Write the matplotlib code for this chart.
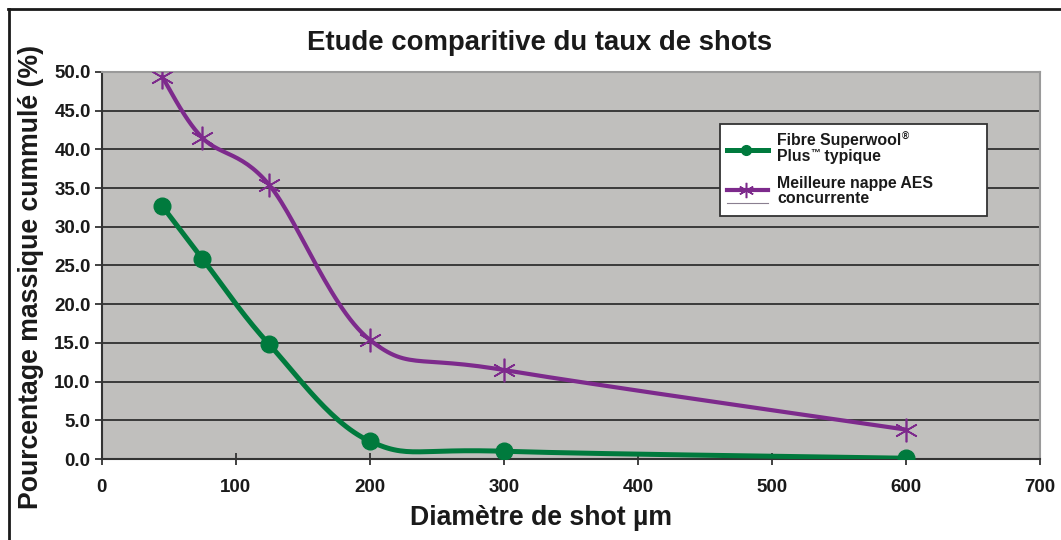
import numpy as np
import matplotlib
matplotlib.use('Agg')
import matplotlib.pyplot as plt
from matplotlib.lines import Line2D
from matplotlib.patches import Rectangle

plt.rcParams['font.family'] = ['Liberation Sans', 'DejaVu Sans']

# Data
diam = [45, 75, 125, 200, 300, 600]
superwool = [32.7, 25.9, 14.8, 2.3, 1.0, 0.1]
aes = [49.4, 41.5, 35.4, 15.4, 11.5, 3.8]

green = '#007a3d'
purple = '#7d2a8c'
W, H = 1061.0, 540.0


def smooth(xs, ys, sx, sy, n=30):
    # Excel-like smoothing: cubic Bezier with Catmull-Rom control points (in pixel scale)
    p = np.column_stack([np.array(xs) * sx, np.array(ys) * sy])
    pts = []
    for i in range(len(p) - 1):
        p0 = p[i - 1] if i > 0 else p[i]
        p1 = p[i]
        p2 = p[i + 1]
        p3 = p[i + 2] if i + 2 < len(p) else p[i + 1]
        c1 = p1 + (p2 - p0) / 6.0
        c2 = p2 - (p3 - p1) / 6.0
        t = np.linspace(0, 1, n)[:, None]
        seg = ((1 - t) ** 3) * p1 + 3 * ((1 - t) ** 2) * t * c1 + 3 * (1 - t) * t ** 2 * c2 + t ** 3 * p2
        pts.append(seg if i == 0 else seg[1:])
    pts = np.vstack(pts)
    return pts[:, 0] / sx, pts[:, 1] / sy


def fx(px):
    return px / W


def fy(py):
    return 1 - py / H


fig = plt.figure(figsize=(10.61, 5.4), dpi=100)
ax = fig.add_axes([0.0959, 0.15, 0.8842, 0.7167])
ax.set_facecolor('#c0bfbd')
ax.set_xlim(0, 700)
ax.set_ylim(0, 50)

# pixel scale factors
sx = 938.0 / 700
sy = 387.0 / 50

for yv in np.arange(5, 50, 5):
    ax.axhline(yv, color='#3a3a3a', lw=1.4, zorder=1)

gx, gy = smooth(diam, superwool, sx, sy)
ax.plot(gx, gy, color=green, lw=3.6, zorder=3, solid_capstyle='round')
ax.plot(diam, superwool, 'o', color=green, ms=12, zorder=4)

px, py = smooth(diam, aes, sx, sy)
ax.plot(px, py, color=purple, lw=3.0, zorder=3, solid_capstyle='round')
ax.plot(diam, aes, marker=(6, 2, 0), ls='none', color=purple, ms=17, mew=1.2, zorder=4)

ax.set_xticks(np.arange(0, 701, 100))
ax.set_yticks(np.arange(0, 50.1, 5))
ax.set_yticklabels(['%.1f' % v for v in np.arange(0, 50.1, 5)])
ax.tick_params(axis='x', direction='inout', length=9, width=1.3, color='#333333', pad=10,
               labelsize=13.5)
ax.tick_params(axis='y', direction='out', length=5, width=1.3, color='#333333', pad=3,
               labelsize=13.5)
for lab in ax.get_xticklabels() + ax.get_yticklabels():
    lab.set_fontweight('bold')
    lab.set_color('#1a1a1a')

for side in ['top', 'right']:
    ax.spines[side].set_color('#9a9a9a')
    ax.spines[side].set_linewidth(1.5)
ax.spines['left'].set_color('#333333')
ax.spines['bottom'].set_color('#333333')
ax.spines['left'].set_linewidth(1.5)
ax.spines['bottom'].set_linewidth(1.5)

fig.text(fx(540), fy(50), 'Etude comparitive du taux de shots', ha='center', va='baseline',
         fontsize=19.8, fontweight='bold', color='#1a1a1a')
fig.text(fx(541), fy(525), 'Diamètre de shot µm', ha='center', va='baseline',
         fontsize=19.2, fontweight='bold', color='#1a1a1a')
fig.text(fx(31), fy(277), 'Pourcentage massique cummulé (%)', ha='center', va='center',
         rotation=90, fontsize=19.2, fontweight='bold', color='#1a1a1a')

# legend box drawn by hand
fig.add_artist(Rectangle((fx(720), fy(216)), fx(987) - fx(720), fy(124) - fy(216),
                         transform=fig.transFigure, facecolor='white',
                         edgecolor='#333333', lw=1.3, zorder=10))
fig.add_artist(Line2D([fx(727), fx(768)], [fy(150), fy(150)], color=green, lw=3.6,
                      transform=fig.transFigure, zorder=11))
fig.add_artist(Line2D([fx(746)], [fy(150)], marker='o', color=green, ms=7,
                      transform=fig.transFigure, zorder=12))
fig.add_artist(Line2D([fx(727), fx(768)], [fy(190), fy(190)], color=purple, lw=3.0,
                      transform=fig.transFigure, zorder=11))
fig.add_artist(Line2D([fx(746)], [fy(190)], marker=(6, 2, 0), color=purple, ms=11, mew=1.1,
                      transform=fig.transFigure, zorder=12))
fig.add_artist(Line2D([fx(727), fx(768)], [fy(203), fy(203)], color='#8a7f90', lw=0.8,
                      transform=fig.transFigure, zorder=11))

# legend labels, with small raised ® and ™
leg_lines = [('Fibre Superwool', '®', '', 145), ('Plus', '™', ' typique', 161),
             ('Meilleure nappe AES', '', '', 188), ('concurrente', '', '', 203)]
renderer = fig.canvas.get_renderer()
for main, sup, rest, base in leg_lines:
    t = fig.text(fx(777), fy(base), main, ha='left', va='baseline', fontsize=11.4,
                 fontweight='bold', color='#1a1a1a', zorder=13)
    if sup:
        x1 = t.get_window_extent(renderer).x1
        s = fig.text(x1 / W + 0.0003, fy(base - 5), sup, ha='left', va='baseline',
                     fontsize=7, fontweight='bold', color='#1a1a1a', zorder=13)
        if rest:
            x2 = s.get_window_extent(renderer).x1
            fig.text(x2 / W, fy(base), rest, ha='left', va='baseline', fontsize=11.4,
                     fontweight='bold', color='#1a1a1a', zorder=13)

# outer frame (left and top edges only)
fig.add_artist(Line2D([0.0085, 0.0085], [0.0, 0.984], color='#1a1a1a', lw=2,
                      transform=fig.transFigure))
fig.add_artist(Line2D([0.0075, 1.0], [0.984, 0.984], color='#1a1a1a', lw=2,
                      transform=fig.transFigure))

fig.savefig('out.png', dpi=100)
